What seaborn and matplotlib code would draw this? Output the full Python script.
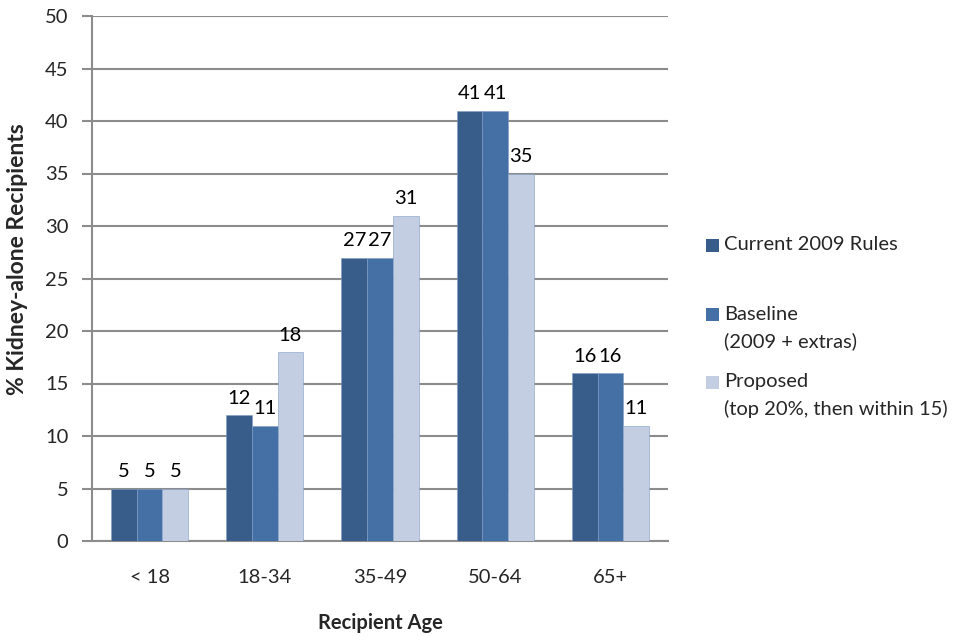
import pandas as pd
import matplotlib.pyplot as plt
import seaborn as sns
from matplotlib.patches import Rectangle

# Chart data
age_groups = ['< 18', '18-34', '35-49', '50-64', '65+']
current_2009 = [5, 12, 27, 41, 16]
baseline = [5, 11, 27, 41, 16]
proposed = [5, 18, 31, 35, 11]

series_names = ['Current 2009 Rules', 'Baseline', 'Proposed']
legend_lines = [['Current 2009 Rules'],
                ['Baseline', '(2009 + extras)'],
                ['Proposed', '(top 20%, then within 15)']]
colors = ['#385d8a', '#4470a6', '#c3cee2']

df = pd.DataFrame({
    'Age': age_groups * 3,
    'Series': [s for s in series_names for _ in age_groups],
    'Pct': current_2009 + baseline + proposed,
})

sns.set_style('white')
plt.rcParams['font.family'] = ['Lato', 'DejaVu Sans']
fs = 14.5

fig = plt.figure(figsize=(9.64, 6.36), dpi=100)
ax = fig.add_axes([92 / 964, 95 / 636, 576 / 964, 525 / 636])

sns.barplot(data=df, x='Age', y='Pct', hue='Series', palette=colors,
            saturation=1, width=0.67, gap=0, edgecolor='#7f9cc4',
            linewidth=0.4, legend=False, ax=ax, zorder=3)

for cont in ax.containers:
    ax.bar_label(cont, fmt='%d', padding=6, fontsize=fs, color='black')

ax.set_ylim(0, 50)
ax.set_yticks(range(0, 51, 5))
ax.set_xlim(-0.5, 4.5)
ax.yaxis.grid(True, color='#8c8c8c', linewidth=1.5, zorder=0)
ax.set_axisbelow(True)

for side in ['top', 'right']:
    ax.spines[side].set_visible(False)
ax.spines['left'].set_color('#8c8c8c')
ax.spines['left'].set_linewidth(1.5)
ax.spines['bottom'].set_color('#8c8c8c')
ax.spines['bottom'].set_linewidth(1.5)

ax.tick_params(axis='y', left=True, length=7, width=1.5, color='#8c8c8c',
               labelsize=fs, pad=10)
ax.tick_params(axis='x', bottom=False, labelsize=fs, pad=17)

ax.set_xlabel('Recipient Age', fontsize=fs, fontweight='bold')
ax.set_ylabel('% Kidney-alone Recipients', fontsize=16.5, fontweight='bold')
ax.xaxis.set_label_coords(0.5, -82 / 525)
ax.yaxis.set_label_coords(-74 / 576, (541 - 259) / 525)
ax.xaxis.label.set_va('center')
ax.yaxis.label.set_va('center')

# Legend drawn at the right, handle aligned with the first line of each entry
first_line_y = [245, 314, 382]
line_gap = 27
for color, lines, y0 in zip(colors, legend_lines, first_line_y):
    fig.add_artist(Rectangle((706 / 964, (636 - y0 - 6.5) / 636), 13 / 964, 13 / 636,
                             transform=fig.transFigure, facecolor=color,
                             edgecolor='none'))
    for i, txt in enumerate(lines):
        fig.text(724 / 964, (636 - y0 - i * line_gap) / 636, txt,
                 fontsize=fs, va='center', ha='left')

fig.savefig('out.png', dpi=100)
